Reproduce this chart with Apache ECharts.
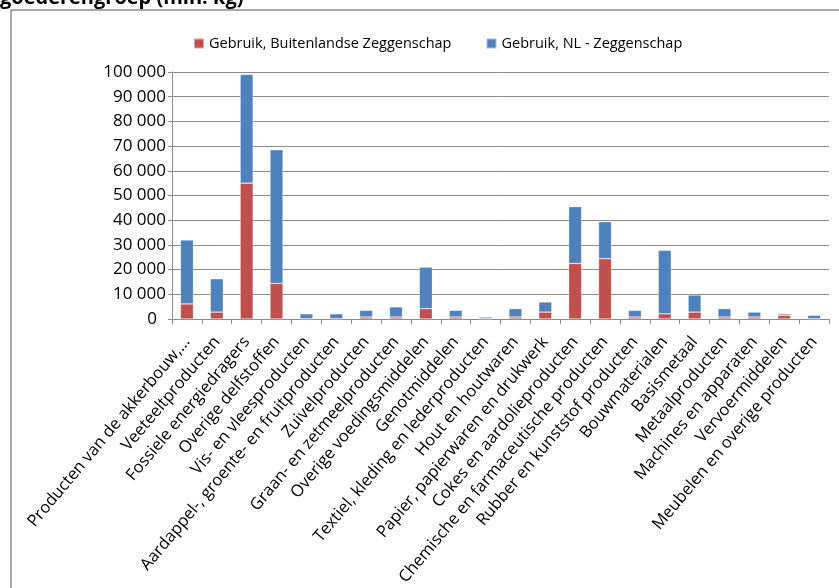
<!DOCTYPE html>
<html>
<head>
<meta charset="utf-8">
<script src="https://cdn.jsdelivr.net/npm/echarts@6/dist/echarts.min.js"></script>
<style>
  html, body { margin: 0; padding: 0; background: #fff; }
  #chart { width: 839px; height: 588px; }
</style>
</head>
<body>
<div id="chart"></div>
<script>
// goederengroepen
const categories = [
  "Producten van de akkerbouw,...",
  "Veeteeltproducten",
  "Fossiele energiedragers",
  "Overige delfstoffen",
  "Vis- en vleesproducten",
  "Aardappel-, groente- en fruitproducten",
  "Zuivelproducten",
  "Graan- en zetmeelproducten",
  "Overige voedingsmiddelen",
  "Genotmiddelen",
  "Textiel, kleding en lederproducten",
  "Hout en houtwaren",
  "Papier, papierwaren en drukwerk",
  "Cokes en aardolieproducten",
  "Chemische en farmaceutische producten",
  "Rubber en kunststof producten",
  "Bouwmaterialen",
  "Basismetaal",
  "Metaalproducten",
  "Machines en apparaten",
  "Vervoermiddelen",
  "Meubelen en overige producten"
];

const buitenlands = [6100, 2800, 55000, 14400, 100, 100, 800, 800, 4200, 800, 150, 800,
  2800, 22500, 24400, 800, 2100, 2800, 800, 800, 1500, 100];
const nederlands = [25900, 13500, 44000, 54100, 2000, 2000, 2700, 4100, 16800, 2700, 650, 3400,
  4100, 23000, 15000, 2700, 25700, 6900, 3400, 2000, 600, 1400];

const yTicks = { min: 0, max: 100000, interval: 10000 };

const font = "Open Sans";

const chart = echarts.init(document.getElementById("chart"));

const fmt = (v) => {
  if (v === 0) return "{z|0}";
  return String(v).replace(/\B(?=(\d{3})+(?!\d))/g, " ");
};

const option = {
  animation: false,
  textStyle: { fontFamily: font },
  graphic: [
    {
      type: "rect",
      shape: { x: 11, y: 10, width: 900, height: 700 },
      style: { fill: "none", stroke: "#8a8a8a", lineWidth: 1.5 }
    },
    {
      type: "text",
      x: 0,
      y: 8,
      style: {
        text: "goederengroep (mln. kg)",
        font: "bold 20px 'Open Sans'",
        fill: "#000",
        verticalAlign: "bottom"
      }
    }
  ],
  legend: {
    left: 188,
    top: 31,
    itemWidth: 10,
    itemHeight: 10,
    itemGap: 34,
    icon: "rect",
    textStyle: { fontSize: 14.5, color: "#000", fontFamily: font }
  },
  grid: { left: 172, right: 10, top: 72, bottom: 269, outerBoundsMode: "none" },
  xAxis: {
    type: "category",
    data: categories,
    axisLine: { lineStyle: { color: "#8c8c8c", width: 1 } },
    axisTick: { show: true, length: 5, lineStyle: { color: "#8c8c8c" } },
    axisLabel: {
      rotate: 50,
      interval: 0,
      margin: 20,
      fontSize: 16.5,
      color: "#000",
      fontFamily: font
    }
  },
  yAxis: {
    type: "value",
    min: yTicks.min,
    max: yTicks.max,
    interval: yTicks.interval,
    axisLine: { show: true, lineStyle: { color: "#8c8c8c" } },
    axisTick: { show: true, length: 4, lineStyle: { color: "#8c8c8c" } },
    splitLine: { lineStyle: { color: "#8c8c8c", width: 1 } },
    axisLabel: {
      formatter: fmt,
      margin: 6,
      fontSize: 17,
      color: "#000",
      fontFamily: font,
      rich: { z: { fontSize: 17, fontFamily: font, color: "#000", padding: [0, 9, 0, 0] } }
    }
  },
  series: [
    {
      name: "Gebruik, Buitenlandse Zeggenschap",
      type: "bar",
      stack: "totaal",
      barWidth: 13,
      data: buitenlands,
      itemStyle: { color: "#C0504D", borderColor: "rgba(255,255,255,0.5)", borderWidth: 0.6 }
    },
    {
      name: "Gebruik, NL - Zeggenschap",
      type: "bar",
      stack: "totaal",
      barWidth: 13,
      data: nederlands,
      itemStyle: { color: "#4F81BD", borderColor: "rgba(255,255,255,0.5)", borderWidth: 0.6 }
    }
  ]
};

chart.setOption(option);
</script>
</body>
</html>
